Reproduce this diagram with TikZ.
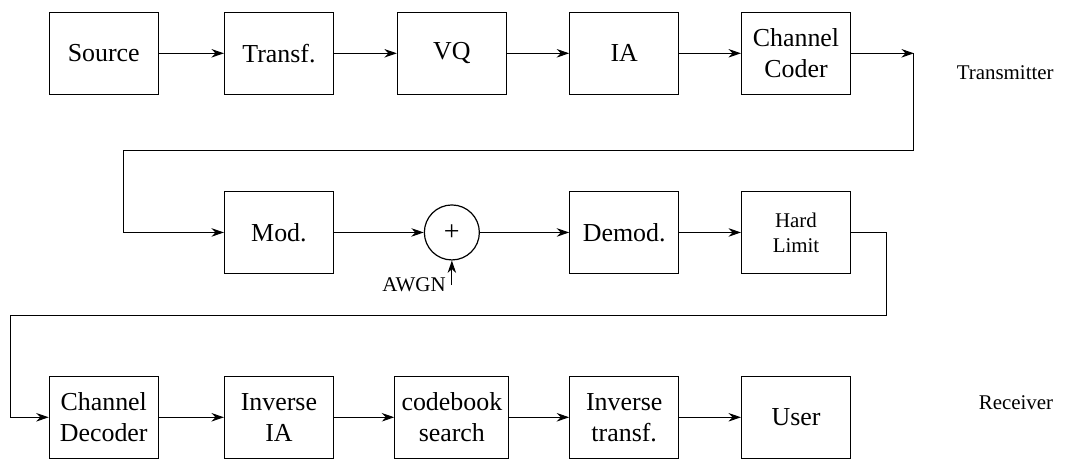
\documentclass[tikz,border=0pt]{standalone}
\usepackage{fontspec}
\setmainfont{Liberation Serif}
\usetikzlibrary{arrows.meta,positioning}

\begin{document}
\begin{tikzpicture}[>={Stealth[length=2.2mm,width=1.5mm]}, line width=0.5pt,
    block/.style={draw, align=center, minimum width=1.92cm, minimum height=1.45cm, line width=0.6pt, font=\fontsize{13}{15.5}\selectfont},
    small/.style={font=\fontsize{10.5}{12.5}\selectfont}]
    \useasboundingbox (0,0) rectangle (18.82,-8.08);

    \def\rowa{-0.94}
    \def\rowb{-4.10}
    \def\rowc{-7.36}
    % Transmitter
    \node[block] (source) at (1.83, \rowa) {Source};
    \node[block] (transf) at (4.92, \rowa) {Transf.};
    \node[block] (vq) at (7.97, \rowa) {VQ};
    \node[block] (ia) at (11.01, \rowa) {IA};
    \node[block] (coder) at (14.04, \rowa) {Channel\\Coder};
    \node[small] (tx) at (17.73, -1.29) {Transmitter};

    % Channel
    \node[block] (mod) at (4.92, \rowb) {Mod.};
    \node[circle, draw, minimum size=0.97cm, inner sep=0pt, line width=0.6pt, font=\fontsize{14}{16}\selectfont] (sum) at (7.97, \rowb) {+};
    \node[small, anchor=east, inner sep=0pt] (awgn) at (7.87, -5.03) {AWGN};
    \node[block] (demod) at (11.01, \rowb) {Demod.};
    \node[block, small] (limit) at (14.04, \rowb) {Hard\\Limit};

    % Receiver
    \node[block] (decoder) at (1.83, \rowc) {Channel\\Decoder};
    \node[block] (invia) at (4.92, \rowc) {Inverse\\IA};
    \node[block] (search) at (7.97, \rowc) {codebook\\search};
    \node[block] (invtransf) at (11.01, \rowc) {Inverse\\transf.};
    \node[block] (user) at (14.04, \rowc) {User};
    \node[small] (rx) at (17.92, -7.11) {Receiver};

    % Arrows
    \draw[->] (source) -- (transf);
    \draw[->] (transf) -- (vq);
    \draw[->] (vq) -- (ia);
    \draw[->] (ia) -- (coder);
    \coordinate (bend1) at (16.12, \rowa);
    \coordinate (bend2) at (2.17, -2.66);
    \draw[->] (coder) -- (bend1);
    \draw[->] (bend1) |- (bend2) |- (mod);

    \draw[->] (mod) -- (sum);
    \coordinate (noise) at (sum.south |- awgn.east);
    \draw[->] (noise) -- (sum.south);
    \draw[->] (sum) -- (demod);
    \draw[->] (demod) -- (limit);
    \coordinate (bend3) at (15.63, -5.56);
    \coordinate (bend4) at (0.19, -5.56);
    \draw[->] (limit) -| (bend3) -- (bend4) |- (decoder);

    \draw[->] (decoder) -- (invia);
    \draw[->] (invia) -- (search);
    \draw[->] (search) -- (invtransf);
    \draw[->] (invtransf) -- (user);
\end{tikzpicture}
\end{document}
